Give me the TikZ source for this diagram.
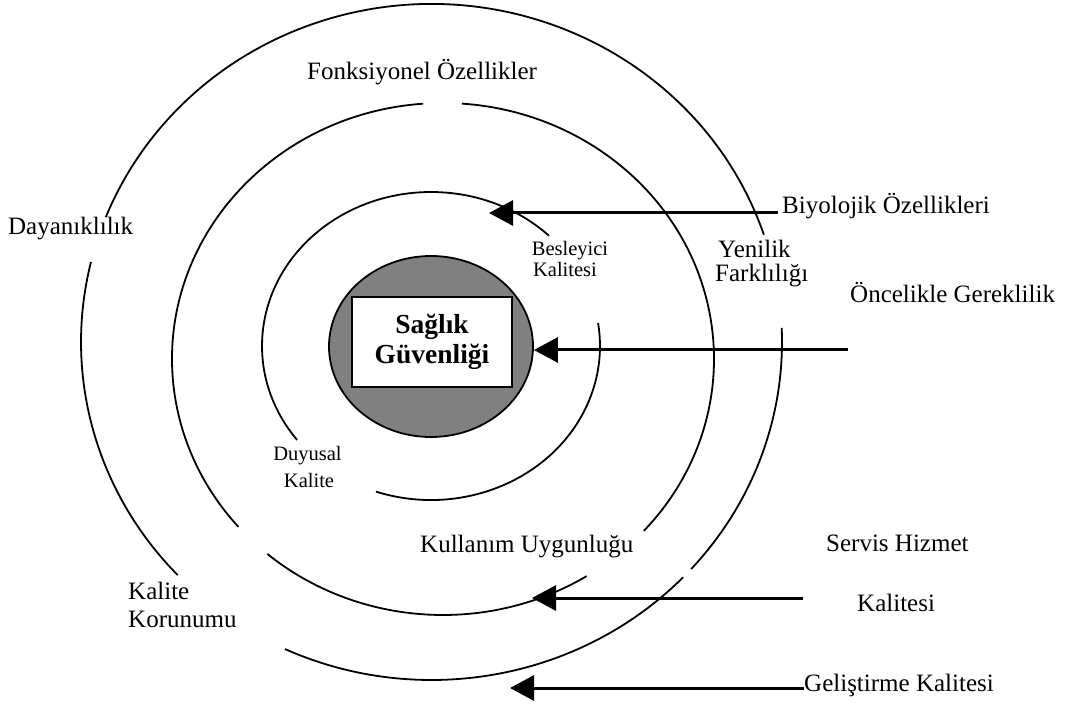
\documentclass[tikz,border=0pt]{standalone}
\usepackage{fontspec}
\setmainfont{Liberation Serif}
\usetikzlibrary{arrows.meta,shapes.geometric}
\begin{document}
\begin{tikzpicture}[x=1pt,y=1pt,
  ring/.style={line width=1.8pt},
  lbl/.style={inner sep=0pt, anchor=base west, font=\fontsize{25}{28}\selectfont},
  sm/.style={inner sep=0pt, anchor=base, font=\fontsize{20.5}{23}\selectfont},
  pointer/.style={line width=3pt, -{Triangle[length=24pt,width=25pt]}},
]
\fill[white] (0,0) rectangle (1068,705);
\useasboundingbox (0,0) rectangle (1068,705);

% outer ring, broken where labels sit
\draw[ring] (431.5,363) ++(18.5:350.5 and 338) arc[start angle=18.5, end angle=158.3, x radius=350.5, y radius=338];
\draw[ring] (431.5,363) ++(166.3:350.5 and 338) arc[start angle=166.3, end angle=223.6, x radius=350.5, y radius=338];
\draw[ring] (431.5,363) ++(245.3:350.5 and 338) arc[start angle=245.3, end angle=315.9, x radius=350.5, y radius=338];
\draw[ring] (431.5,363) ++(317.8:350.5 and 338) arc[start angle=317.8, end angle=362.4, x radius=350.5, y radius=338];

% middle ring
\draw[ring] (443,346) ++(94.2:271 and 256) arc[start angle=94.2, end angle=221, x radius=271, y radius=256];
\draw[ring] (443,346) ++(229.6:271 and 256) arc[start angle=229.6, end angle=302, x radius=271, y radius=256];
\draw[ring] (443,346) ++(317.8:271 and 256) arc[start angle=317.8, end angle=446, x radius=271, y radius=256];

% inner ring
\draw[ring] (431,359) ++(45.7:169 and 154) arc[start angle=45.7, end angle=217.6, x radius=169, y radius=154];
\draw[ring] (431,359) ++(251:169 and 154) arc[start angle=251, end angle=368.6, x radius=169, y radius=154];

% core
\node[ellipse, draw, line width=1.8pt, fill=black!50, minimum width=204pt, minimum height=181pt, inner sep=0pt] (core) at (431,358.5) {};
\node[draw, fill=white, line width=1.8pt, minimum width=160pt, minimum height=90pt, inner sep=0pt, align=center,
      font=\fontsize{27.5}{30}\selectfont\bfseries] (box) at (432,363) {Sağlık\\Güvenliği};

% labels
\node[lbl] (fonk) at (307,625) {Fonksiyonel Özellikler};
\node[lbl] (daya) at (8,470) {Dayanıklılık};
\node[lbl] (biyo) at (782,491) {Biyolojik Özellikleri};
\node[lbl] (yeni1) at (718,447) {Yenilik};
\node[lbl] (yeni2) at (715,423) {Farklılığı};
\node[lbl] (once) at (850,402) {Öncelikle Gereklilik};
\node[sm] (bes1) at (570,449) {Besleyici};
\node[sm] (bes2) at (565,428) {Kalitesi};
\node[sm] (duy1) at (307.5,245) {Duyusal};
\node[sm] (duy2) at (309,218) {Kalite};
\node[lbl] (kull) at (420,153) {Kullanım Uygunluğu};
\node[lbl] (serv1) at (826,154) {Servis Hizmet};
\node[lbl] (serv2) at (857,94) {Kalitesi};
\node[lbl] (gel) at (804,14) {Geliştirme Kalitesi};
\node[lbl] (kor1) at (128,106) {Kalite};
\node[lbl] (kor2) at (128,78) {Korunumu};

% arrows
\coordinate (b0) at (778,492);
\coordinate (b1) at (489,492);
\draw[pointer] (b0) -- (b1);
\coordinate (o0) at (848,355);
\draw[pointer] (o0) -- (core.east |- o0);
\coordinate (s0) at (803,107);
\coordinate (s1) at (532,107);
\draw[pointer] (s0) -- (s1);
\coordinate (g0) at (804,17);
\coordinate (g1) at (510,17);
\draw[pointer] (g0) -- (g1);
\end{tikzpicture}
\end{document}
